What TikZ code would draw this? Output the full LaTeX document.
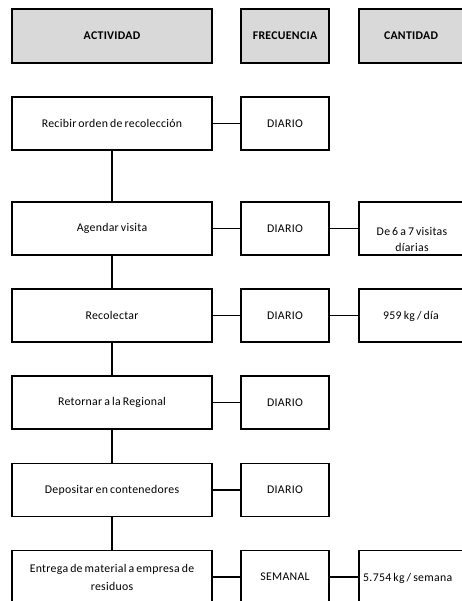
\documentclass[tikz,border=0pt]{standalone}
\usepackage{fontspec}
\setmainfont{Carlito}[LetterSpace=2.5,WordSpace=0.7]
\begin{document}
\begin{tikzpicture}[x=1pt,y=-1pt,
  box/.style={draw=black,line width=1.6pt,rectangle,inner sep=0pt,align=center,font=\fontsize{11.8}{18}\selectfont},
  head/.style={box,fill=black!15,font=\fontsize{11.8}{18}\selectfont\bfseries},
  link/.style={draw=black,line width=1.6pt},
  txt/.style={inner sep=0pt,align=center,font=\fontsize{11.8}{16}\selectfont}]
\useasboundingbox (0,0) rectangle (462,601);
% headers
\node[head,minimum width=200pt,minimum height=54pt] (ha) at (112,36) {ACTIVIDAD};
\node[head,minimum width=88pt,minimum height=54pt] (hf) at (285,36) {FRECUENCIA};
\node[head,minimum width=110pt,minimum height=54pt,text width=104pt] (hc) at (414,36) {\hspace*{-6pt}CANTIDAD};
% activities
\node[box,minimum width=200pt,minimum height=53pt] (a1) at (112,123.5) {Recibir orden de recolección};
\node[box,minimum width=200pt,minimum height=53pt] (a2) at (112,228.5) {Agendar visita};
\node[box,minimum width=200pt,minimum height=53pt] (a3) at (112,315.5) {Recolectar};
\node[box,minimum width=200pt,minimum height=53pt] (a4) at (112,402.5) {Retornar a la Regional};
\node[box,minimum width=200pt,minimum height=53pt] (a5) at (112,490) {Depositar en contenedores};
\node[box,minimum width=200pt,minimum height=53pt] (a6) at (112,577) {Entrega de material a empresa de\\residuos};
% frequencies
\node[box,minimum width=88pt,minimum height=53pt] (f1) at (285,123.5) {DIARIO};
\node[box,minimum width=88pt,minimum height=53pt] (f2) at (285,228.5) {DIARIO};
\node[box,minimum width=88pt,minimum height=53pt] (f3) at (285,315.5) {DIARIO};
\node[box,minimum width=88pt,minimum height=53pt] (f4) at (285,402.5) {DIARIO};
\node[box,minimum width=88pt,minimum height=53pt] (f5) at (285,490) {DIARIO};
\node[box,minimum width=88pt,minimum height=53pt] (f6) at (285,577) {SEMANAL};
% quantities
\node[box,minimum width=110pt,minimum height=53pt] (c2) at (414,228.5) {};
\node[txt] (t2) at (412,239.5) {De 6 a 7 visitas\\díarias};
\node[box,minimum width=110pt,minimum height=53pt] (c3) at (414,315.5) {};
\node[txt] (t3) at (411,316) {959 kg / día};
\node[box,minimum width=110pt,minimum height=53pt] (c6) at (414,577) {};
\node[txt,anchor=west] (t6) at (363,578) {5.754 kg / semana};
% connectors
\draw[link] (a1) -- (a2);
\draw[link] (a2) -- (a3);
\draw[link] (a3) -- (a4);
\draw[link] (a4) -- (a5);
\draw[link] (a5) -- (a6);
\foreach \i in {1,...,6} {\draw[link] (a\i) -- (f\i);}
\draw[link] (f2) -- (c2);
\draw[link] (f3) -- (c3);
\draw[link] (f6) -- (c6);
\end{tikzpicture}
\end{document}
